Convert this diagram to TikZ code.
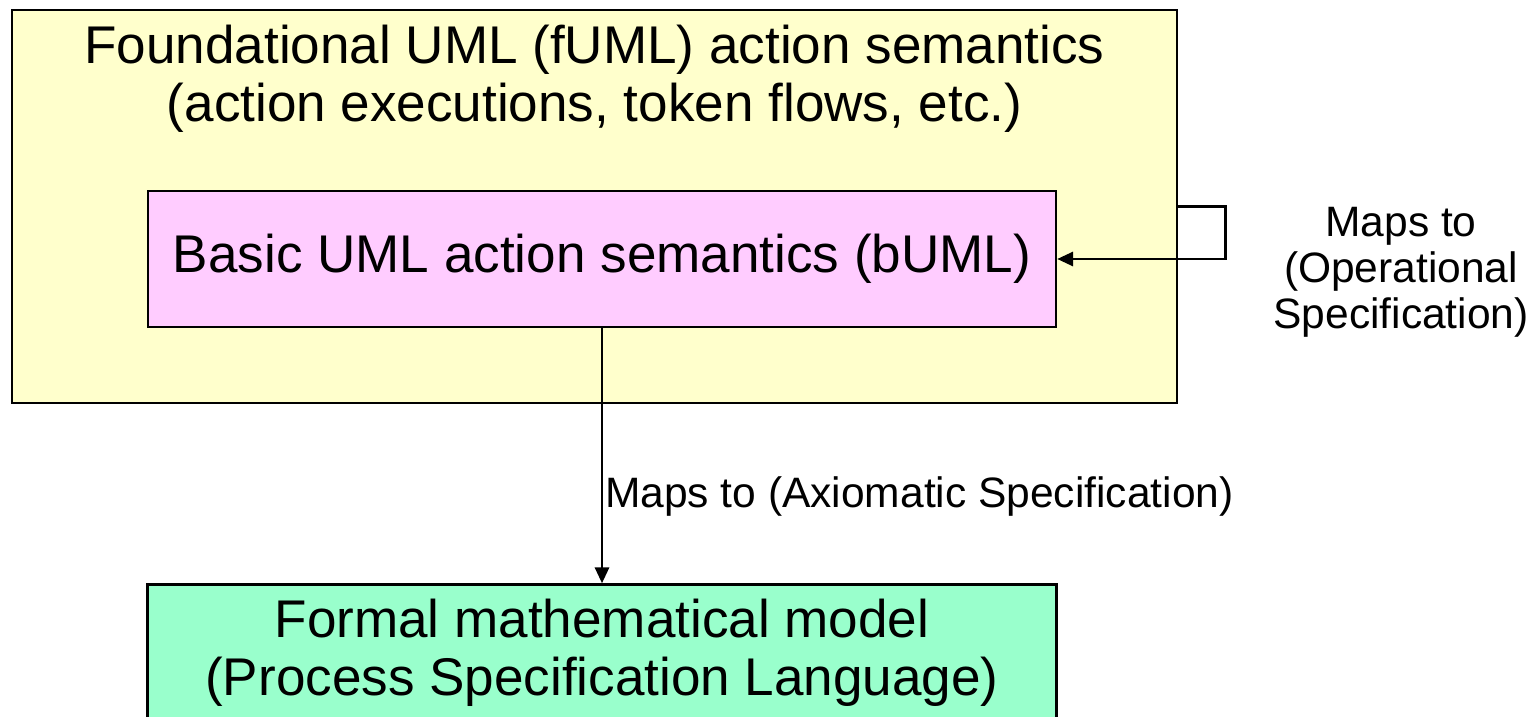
\documentclass[tikz,border=0pt]{standalone}
\usepackage{fontspec}
\setmainfont{Liberation Sans}
\usepackage{tikz}
\usetikzlibrary{arrows.meta, positioning}
\definecolor{fumlyellow}{RGB}{255,255,204}
\definecolor{bumlpink}{RGB}{255,204,255}
\definecolor{pslgreen}{RGB}{153,255,204}
\newcommand{\boxfont}{\fontsize{30.2}{33}\selectfont}
\newcommand{\labelfont}{\fontsize{24.2}{26.2}\selectfont}
\tikzset{
  box/.style={draw, line width=1.5pt, inner sep=0pt, align=center, font=\boxfont},
  outer/.style={box, fill=fumlyellow, minimum width=23.3cm, minimum height=7.86cm},
  semantics/.style={box, fill=bumlpink, minimum width=18.16cm, minimum height=2.72cm},
  model/.style={box, fill=pslgreen, minimum width=18.18cm, minimum height=2.72cm},
  maplabel/.style={align=center, font=\labelfont, inner sep=1pt},
  arrow/.style={-{Triangle[length=9pt, width=8pt]}, line width=1.5pt}
}

\begin{document}
\begin{tikzpicture}[x=0.02cm, y=-0.02cm]
  \useasboundingbox (0,0) rectangle (1540,716);
  \clip (0,0) rectangle (1540,716);

  % Boxes
  \node[outer] (fuml) at (594.5,206.5) {};
  \node[font=\boxfont, align=center] (fumltitle) at (594.5,79)
    {Foundational UML (fUML) action semantics\\(action executions, token flows, etc.)};
  \node[semantics] (buml) at (602,259) {Basic UML action semantics (bUML)};
  \node[model, below=5.1cm of buml] (psl) {Formal mathematical model\\(Process Specification Language)};
  \node[maplabel] (oplabel) at (1401,272) {Maps to\\(Operational\\Specification)};

  % Arrows
  \draw[arrow] (fuml.east) -- ++(47,0) |- (buml.east);
  \draw[arrow] (buml) -- node[maplabel, pos=0.66, right] {Maps to (Axiomatic Specification)} (psl);
\end{tikzpicture}
\end{document}
